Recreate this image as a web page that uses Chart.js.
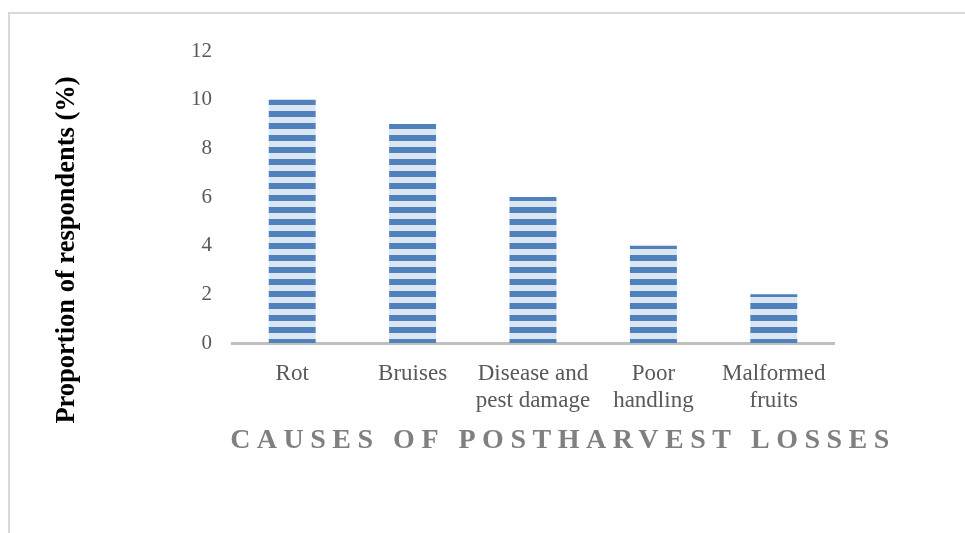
<!DOCTYPE html>
<html>
<head>
<meta charset="utf-8">
<title>Causes of postharvest losses</title>
<script src="https://cdn.jsdelivr.net/npm/chart.js@4/dist/chart.umd.min.js"></script>
<style>
  html, body { margin: 0; padding: 0; background: #fff; }
  #wrap { width: 965px; height: 533px; }
</style>
</head>
<body>
<div id="wrap"><canvas id="lossChart"></canvas></div>
<script>
// chart data
const categories = ['Rot', 'Bruises', ['Disease and', 'pest damage'], ['Poor', 'handling'], ['Malformed', 'fruits']];
const respondents = [10, 9, 6, 4, 2];
const yMin = 0;
const yMax = 12;
const yStep = 2;
const xTitle = 'CAUSES OF POSTHARVEST LOSSES';
const yTitle = 'Proportion of respondents (%)';

const serif = '"Liberation Serif", "Times New Roman", serif';

// horizontal stripe fill like the original bars
function stripePattern() {
    const c = document.createElement('canvas');
    c.width = 8;
    c.height = 12;
    const g = c.getContext('2d');
    g.fillStyle = '#DCE6F2';
    g.fillRect(0, 0, 8, 12);
    g.fillStyle = '#4F81BD';
    g.fillRect(0, 3, 8, 6);
    return g.createPattern(c, 'repeat');
}

// frame + axis titles
const decorations = {
    id: 'decorations',
    beforeDraw(chart) {
        const ctx = chart.ctx;
        ctx.save();
        ctx.strokeStyle = '#D9D9D9';
        ctx.lineWidth = 2;
        ctx.beginPath();
        ctx.moveTo(9, chart.height);
        ctx.lineTo(9, 13);
        ctx.lineTo(chart.width, 13);
        ctx.stroke();
        ctx.restore();
    },
    afterDraw(chart) {
        const ctx = chart.ctx;
        const area = chart.chartArea;
        const xScale = chart.scales.x;

        ctx.save();
        ctx.fillStyle = '#808080';
        ctx.font = 'bold 28px ' + serif;
        ctx.letterSpacing = '6.5px';
        ctx.textAlign = 'center';
        ctx.textBaseline = 'middle';
        ctx.fillText(xTitle, (area.left + area.right) / 2 + 30, xScale.top + 98);
        ctx.restore();

        ctx.save();
        ctx.fillStyle = '#000000';
        ctx.font = 'bold 26.5px ' + serif;
        ctx.textAlign = 'center';
        ctx.textBaseline = 'middle';
        ctx.translate(area.left - 165, (area.top + area.bottom) / 2 + 53);
        ctx.rotate(-Math.PI / 2);
        ctx.fillText(yTitle, 0, 0);
        ctx.restore();
    }
};

const ctx = document.getElementById('lossChart').getContext('2d');
const lossChart = new Chart(ctx, {
    type: 'bar',
    data: {
        labels: categories,
        datasets: [{
            label: 'Proportion of respondents',
            data: respondents,
            backgroundColor: stripePattern(),
            borderWidth: 0,
            categoryPercentage: 1,
            barPercentage: 0.39
        }]
    },
    options: {
        responsive: true,
        maintainAspectRatio: false,
        animation: false,
        layout: {
            padding: { top: 51, right: 131, bottom: 0, left: 0 }
        },
        plugins: {
            legend: { display: false },
            tooltip: { enabled: false }
        },
        scales: {
            x: {
                grid: { display: false, drawTicks: false },
                border: { display: true, color: '#BFBFBF', width: 3 },
                ticks: {
                    color: '#595959',
                    font: { family: serif, size: 23, lineHeight: 1.18 },
                    padding: 17,
                    maxRotation: 0,
                    autoSkip: false
                },
                afterFit(scale) { scale.height = 190; }
            },
            y: {
                min: yMin,
                max: yMax,
                grid: { display: false, drawTicks: false },
                border: { display: false },
                ticks: {
                    stepSize: yStep,
                    color: '#595959',
                    font: { family: serif, size: 21 },
                    padding: 20
                },
                afterFit(scale) { scale.width = 232; }
            }
        }
    },
    plugins: [decorations]
});
</script>
</body>
</html>
